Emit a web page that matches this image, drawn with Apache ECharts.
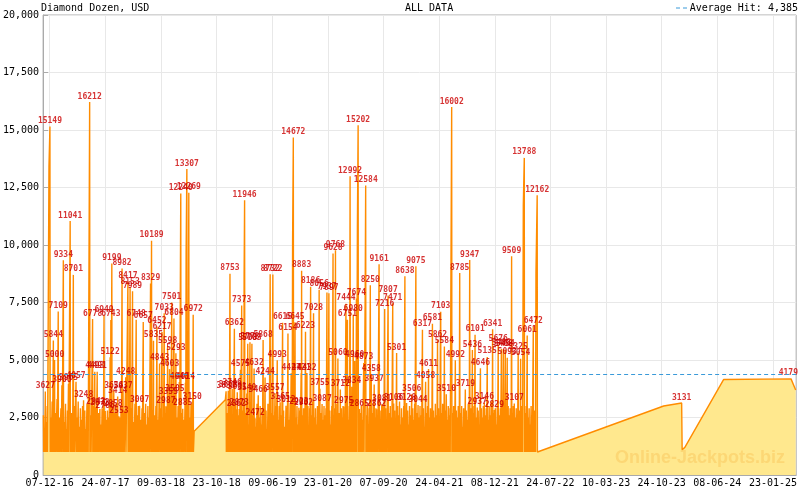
<!DOCTYPE html>
<html><head><meta charset="utf-8">
<script src="https://cdn.jsdelivr.net/npm/echarts@6/dist/echarts.min.js"></script>
<style>html,body{margin:0;padding:0;background:#fff}#c{width:800px;height:490px}</style>
</head><body><div id="c"></div>
<script>
// ---------- data (days counted from START_DATE) ----------
const START_DATE = '2016-12-07';
const X_MIN_DATE = '2016-11-10';
const X_MAX_DATE = '2025-04-28';
const xTickLabels = ['07-12-16','24-07-17','09-03-18','23-10-18','09-06-19','23-01-20','07-09-20','24-04-21','08-12-21','24-07-22','10-03-23','24-10-23','08-06-24','23-01-25'];
const Y_MIN = 0, Y_MAX = 20000, Y_STEP = 2500;
const AVERAGE_HIT = 4385;
const RESET_VALUE = 1000;

// labelled jackpot hits [day, value]
const labelledHits = [
[-18,3627],[1,15149],[15,5844],[20,5000],[35,7109],[50,3900],[56,9334],[77,3965],[84,11041],[97,8701],
[108,4057],[139,3248],[164,16212],[176,6778],[185,4493],[190,2943],[195,4491],[206,2873],[223,6949],[228,2786],
[248,5122],[251,6743],[255,9199],[260,2858],[263,3654],[279,3414],[284,2553],[297,8982],[301,3637],[312,4248],
[321,8417],[330,8153],[340,7989],[355,6748],[369,3007],[384,6657],[414,8329],[418,10189],[426,5835],[440,6452],
[451,4843],[461,6217],[470,7033],[477,2987],[484,5598],[487,3355],[492,4603],[501,7501],[510,6804],[514,3505],
[518,5293],[532,4040],[538,12240],[546,2885],[557,4014],[563,13307],[571,12269],[585,3150],[589,6972],
[724,3637],[733,3663],[740,8753],[749,3746],[758,6362],[766,2862],[770,3601],[778,2873],[783,4575],[788,7373],
[800,11946],[809,3540],[813,5708],[822,5773],[830,5703],[839,4632],[843,2472],[856,3466],[876,5868],[884,4244],
[905,8732],[916,8722],[925,3557],[934,4993],[946,3165],[956,6615],[970,3012],[978,6154],[991,4427],[1000,14672],
[1007,6645],[1023,2923],[1032,4421],[1034,8883],[1042,2902],[1050,6223],[1056,4432],[1071,8186],[1083,7028],[1106,8056],
[1109,3755],[1118,3087],[1138,7937],[1146,7897],[1163,9628],[1173,9768],[1183,5060],[1193,3712],[1207,2975],[1216,7444],
[1222,6751],[1233,12992],[1240,3834],[1246,6980],[1252,4960],[1259,7674],[1266,15202],[1271,2865],[1289,4873],[1297,12584],
[1316,8250],[1320,4358],[1332,3937],[1342,2862],[1352,9161],[1363,3081],[1375,7216],[1389,7807],[1408,7471],[1412,3106],
[1424,5301],[1458,8638],[1465,3128],[1486,3506],[1503,9075],[1512,3044],[1530,6317],[1543,4058],[1555,4611],[1571,6581],
[1592,5862],[1605,7103],[1620,5584],[1628,3510],[1650,16002],[1665,4992],[1683,8785],[1706,3719],[1724,9347],[1735,5436],
[1746,6101],[1755,2937],[1768,4646],[1784,3146],[1796,5135],[1818,6341],[1825,2829],[1841,5676],[1854,5488],[1862,5468],
[1870,5454],[1878,5093],[1896,9509],[1907,3107],[1923,5325],[1933,5054],[1948,13788],[1960,6061],[1985,6472],[2001,12162]
];

// smaller, unlabelled hits [day, value]
const minorHits = [
[-26,2600],[-22,2000],[-14,2300],[-10,3000],[5,2500],[10,3200],[24,2700],[30,3300],[40,2500],[46,2900],
[60,2300],[65,3100],[69,2000],[73,2800],[89,2700],[93,2200],[101,3000],[112,2500],[117,3200],[122,2100],
[126,2900],[130,2400],[135,3000],[144,2800],[148,2000],[153,3100],[157,2500],[169,2600],[181,3000],[200,2700],
[211,2200],[215,2900],[219,2500],[232,2400],[237,2800],[241,2500],[245,3000],[268,2700],[272,3100],[275,2100],
[289,2500],[293,3000],[305,2800],[325,2600],[335,2900],[345,2300],[350,3100],[360,2600],[364,3000],[374,2400],
[379,2900],[389,2700],[394,3100],[399,2200],[403,3000],[408,2500],[423,2800],[431,2600],[436,3000],[445,2400],
[456,2900],[466,2500],[474,2700],[481,2300],[496,2600],[505,2800],[523,2500],[527,3000],[542,2700],[551,2400],
[567,2800],[576,2500],[580,3100],
[729,2700],[736,2300],[744,3000],[753,2500],[762,3100],[774,2600],[792,2800],[796,3200],[805,2700],[818,2200],
[826,2900],[835,2600],[847,2100],[851,3100],[860,2500],[864,3000],[868,2200],[872,2900],[880,2600],[888,2800],
[892,2000],[896,3100],[900,2500],[910,2700],[920,2600],[929,3000],[938,2400],[942,3000],[951,2600],[960,2800],
[965,2100],[974,2900],[982,2400],[987,3100],[994,2600],[1004,2700],[1011,2500],[1015,3000],[1019,2200],[1027,2800],
[1038,2600],[1046,2900],[1053,2500],[1060,3000],[1064,2100],[1067,2900],[1075,2600],[1079,3200],[1087,2500],[1091,2900],
[1095,2200],[1099,3000],[1103,2600],[1113,2700],[1122,2400],[1126,3000],[1130,2600],[1134,2900],[1142,2500],[1150,2800],
[1154,2200],[1158,3000],[1167,2600],[1170,2900],[1177,2500],[1180,3100],[1187,2700],[1190,2100],[1197,2900],[1200,2500],
[1204,3000],[1211,2600],[1219,2800],[1226,2400],[1230,3000],[1237,2700],[1243,2500],[1249,2800],[1256,2600],[1275,2700],
[1279,3000],[1283,2400],[1301,2600],[1305,3000],[1309,2200],[1312,2900],[1324,2700],[1328,3100],[1336,2500],[1339,2900],
[1346,2600],[1356,2800],[1359,2100],[1367,3000],[1371,2500],[1379,2900],[1383,2400],[1393,2700],[1398,3000],[1403,2500],
[1416,2800],[1420,2400],[1428,3000],[1432,2600],[1436,3200],[1440,2200],[1444,2900],[1448,2500],[1453,3000],[1462,2600],
[1469,2800],[1473,2200],[1477,3000],[1481,2600],[1490,2900],[1494,2400],[1498,3100],[1507,2700],[1516,2500],[1520,3000],
[1525,2600],[1534,2900],[1538,2100],[1547,2700],[1551,3000],[1559,2500],[1563,2900],[1567,2400],[1575,2800],[1579,2500],
[1583,3100],[1588,2600],[1596,2900],[1600,2200],[1609,2700],[1613,3100],[1617,2500],[1624,2800],[1632,2400],[1636,3000],
[1640,2600],[1643,2900],[1654,2700],[1658,3000],[1661,2200],[1669,2800],[1673,2500],[1677,3000],[1680,2400],[1687,2700],
[1691,3000],[1695,2100],[1699,2900],[1702,2500],[1710,2800],[1714,2400],[1718,3100],[1721,2600],[1728,2900],[1731,2400],
[1739,2700],[1742,3000],[1750,2500],[1759,2800],[1763,2200],[1772,2900],[1776,2500],[1780,3000],[1788,2600],[1792,2900],
[1800,2400],[1804,3000],[1808,2600],[1812,3200],[1815,2400],[1822,2700],[1829,2900],[1833,2200],[1837,3000],[1845,2600],
[1850,2900],[1858,2500],[1866,2800],[1874,2400],[1882,3000],[1886,2600],[1890,2900],[1893,2100],[1900,2700],[1903,3000],
[1911,2500],[1915,2900],[1919,2400],[1927,2800],[1930,2400],[1937,3000],[1940,2600],[1952,2700],[1956,3000],[1964,2500],
[1968,2900],[1972,2200],[1976,3000],[1980,2600],[1989,2800],[1993,2400]
];

// intermediate readings on a rising jackpot (no reset after them) [day, value]
const risePoints = [
[-3,13400],[560,9700],[593,1900],[721,3270],[798,8700],[997,10144],[1263,10800],[1295,8000],[1647,9000],[1944,11715],[1996,8800]
];

// sparse data after the dense period [day, value, labelled]
const tailPoints = [
[2520,3000,0],[2594,3131,1],[2596,1100,0],[2607,1200,0],[2766,4150,0],[3043,4179,1],[3062,3700,0]
];

// ---------- build ----------
const DAY = 86400000;
function parseISO(s){const p=s.split('-').map(Number);return Date.UTC(p[0],p[1]-1,p[2]);}
function parseDMY(s){const p=s.split('-').map(Number);return Date.UTC(2000+p[2],p[1]-1,p[0]);}
const t0 = parseISO(START_DATE);
const T = d => t0 + d*DAY;
const xMin = parseISO(X_MIN_DATE), xMax = parseISO(X_MAX_DATE);

const events = [];
labelledHits.forEach(p=>events.push({d:p[0],v:p[1],hit:true,label:true}));
minorHits.forEach(p=>events.push({d:p[0],v:p[1],hit:true,label:false}));
risePoints.forEach(p=>events.push({d:p[0],v:p[1],hit:false,label:false}));
tailPoints.forEach(p=>events.push({d:p[0],v:p[1],hit:false,label:!!p[2]}));
events.sort((a,b)=>a.d-b.d);

const lineData = [], labelData = [];
events.forEach(e=>{
  lineData.push([T(e.d), e.v]);
  if (e.label) labelData.push([T(e.d), e.v]);
  if (e.hit) lineData.push([T(e.d+1), RESET_VALUE]);
});

const labelTimes = xTickLabels.map(parseDMY);
const minorTicks = [];
for (let k=0;k<labelTimes.length-1;k++){
  const step=(labelTimes[k+1]-labelTimes[k])/6;
  for (let j=0;j<6;j++) minorTicks.push(labelTimes[k]+j*step);
}
{
  const n=labelTimes.length, step=(labelTimes[n-1]-labelTimes[0])/(n-1)/6;
  for (let t=labelTimes[n-1]; t<=xMax; t+=step) minorTicks.push(t);
}

const FONT = '"DejaVu Sans Mono", "Liberation Mono", monospace';
const chart = echarts.init(document.getElementById('c'), null, {renderer:'canvas'});
chart.setOption({
  animation:false,
  backgroundColor:'#fff',
  grid:{left:40,right:2,top:15,bottom:15,show:true,borderColor:'#aaa',borderWidth:1,backgroundColor:'#fff'},
  xAxis:[{
    type:'value', min:xMin, max:xMax,
    axisLine:{show:true,lineStyle:{color:'#aaa'}},
    axisTick:{show:false, customValues:labelTimes},
    axisLabel:{customValues:labelTimes, margin:3, color:'#000', fontFamily:FONT, fontSize:10,
      formatter:v=>{const i=labelTimes.indexOf(v);return i>=0?xTickLabels[i]:'';}},
    splitLine:{show:true,lineStyle:{color:'#e8e8e8',width:1}}
  },{
    type:'value', min:xMin, max:xMax, position:'bottom',
    axisLine:{show:false}, axisLabel:{show:false}, splitLine:{show:false},
    axisTick:{show:true, inside:true, length:5, customValues:minorTicks, lineStyle:{color:'#aaa'}}
  }],
  yAxis:{
    type:'value', min:Y_MIN, max:Y_MAX, interval:Y_STEP,
    axisLine:{show:true,lineStyle:{color:'#aaa'}},
    axisTick:{show:true,inside:true,length:5,lineStyle:{color:'#aaa'}},
    axisLabel:{margin:4,color:'#000',fontFamily:FONT,fontSize:10,formatter:v=>v.toLocaleString('en-US')},
    splitLine:{show:true,lineStyle:{color:'#e8e8e8',width:1}}
  },
  series:[{
    type:'line', data:lineData, showSymbol:false, symbol:'none', z:2,
    lineStyle:{color:'#ff8c00',width:1.4},
    areaStyle:{color:'#ffe88e',opacity:1},
    emphasis:{disabled:true}, silent:true,
    markLine:{silent:true,symbol:'none',label:{show:false},
      lineStyle:{color:'#3a9ad9',type:[4,3],width:1},
      data:[{yAxis:AVERAGE_HIT}]}
  },{
    type:'scatter', data:labelData, symbol:'circle', symbolSize:1, z:4, silent:true,
    itemStyle:{color:'rgba(0,0,0,0)'},
    label:{show:true,position:'top',distance:1,color:'#cc0000',fontFamily:FONT,fontSize:8,fontWeight:'bold',
      formatter:p=>String(p.value[1])},
    labelLayout:function(params){
      const r=params.labelRect; const over=r.x+r.width-798;
      return over>0?{dx:-over}:{};
    }
  }],
  graphic:[
    {type:'text',x:41,y:8,style:{text:'Diamond Dozen, USD',font:'10px '+FONT,fill:'#000',textVerticalAlign:'middle'}},
    {type:'text',x:405,y:8,style:{text:'ALL DATA',font:'10px '+FONT,fill:'#000',textVerticalAlign:'middle'}},
    {type:'text',x:798,y:8,style:{text:'Average Hit: 4,385',font:'10px '+FONT,fill:'#000',textAlign:'right',textVerticalAlign:'middle'}},
    {type:'line',shape:{x1:676,y1:8,x2:689,y2:8},style:{stroke:'#3a9ad9',lineWidth:1,lineDash:[4,3]}},
    {type:'text',x:700,y:458,z:100,style:{text:'Online-Jackpots.biz',font:'bold 18px "Liberation Sans", Arial, sans-serif',fill:'rgba(245,175,60,0.3)',textAlign:'center',textVerticalAlign:'middle'}}
  ]
});
</script></body></html>
